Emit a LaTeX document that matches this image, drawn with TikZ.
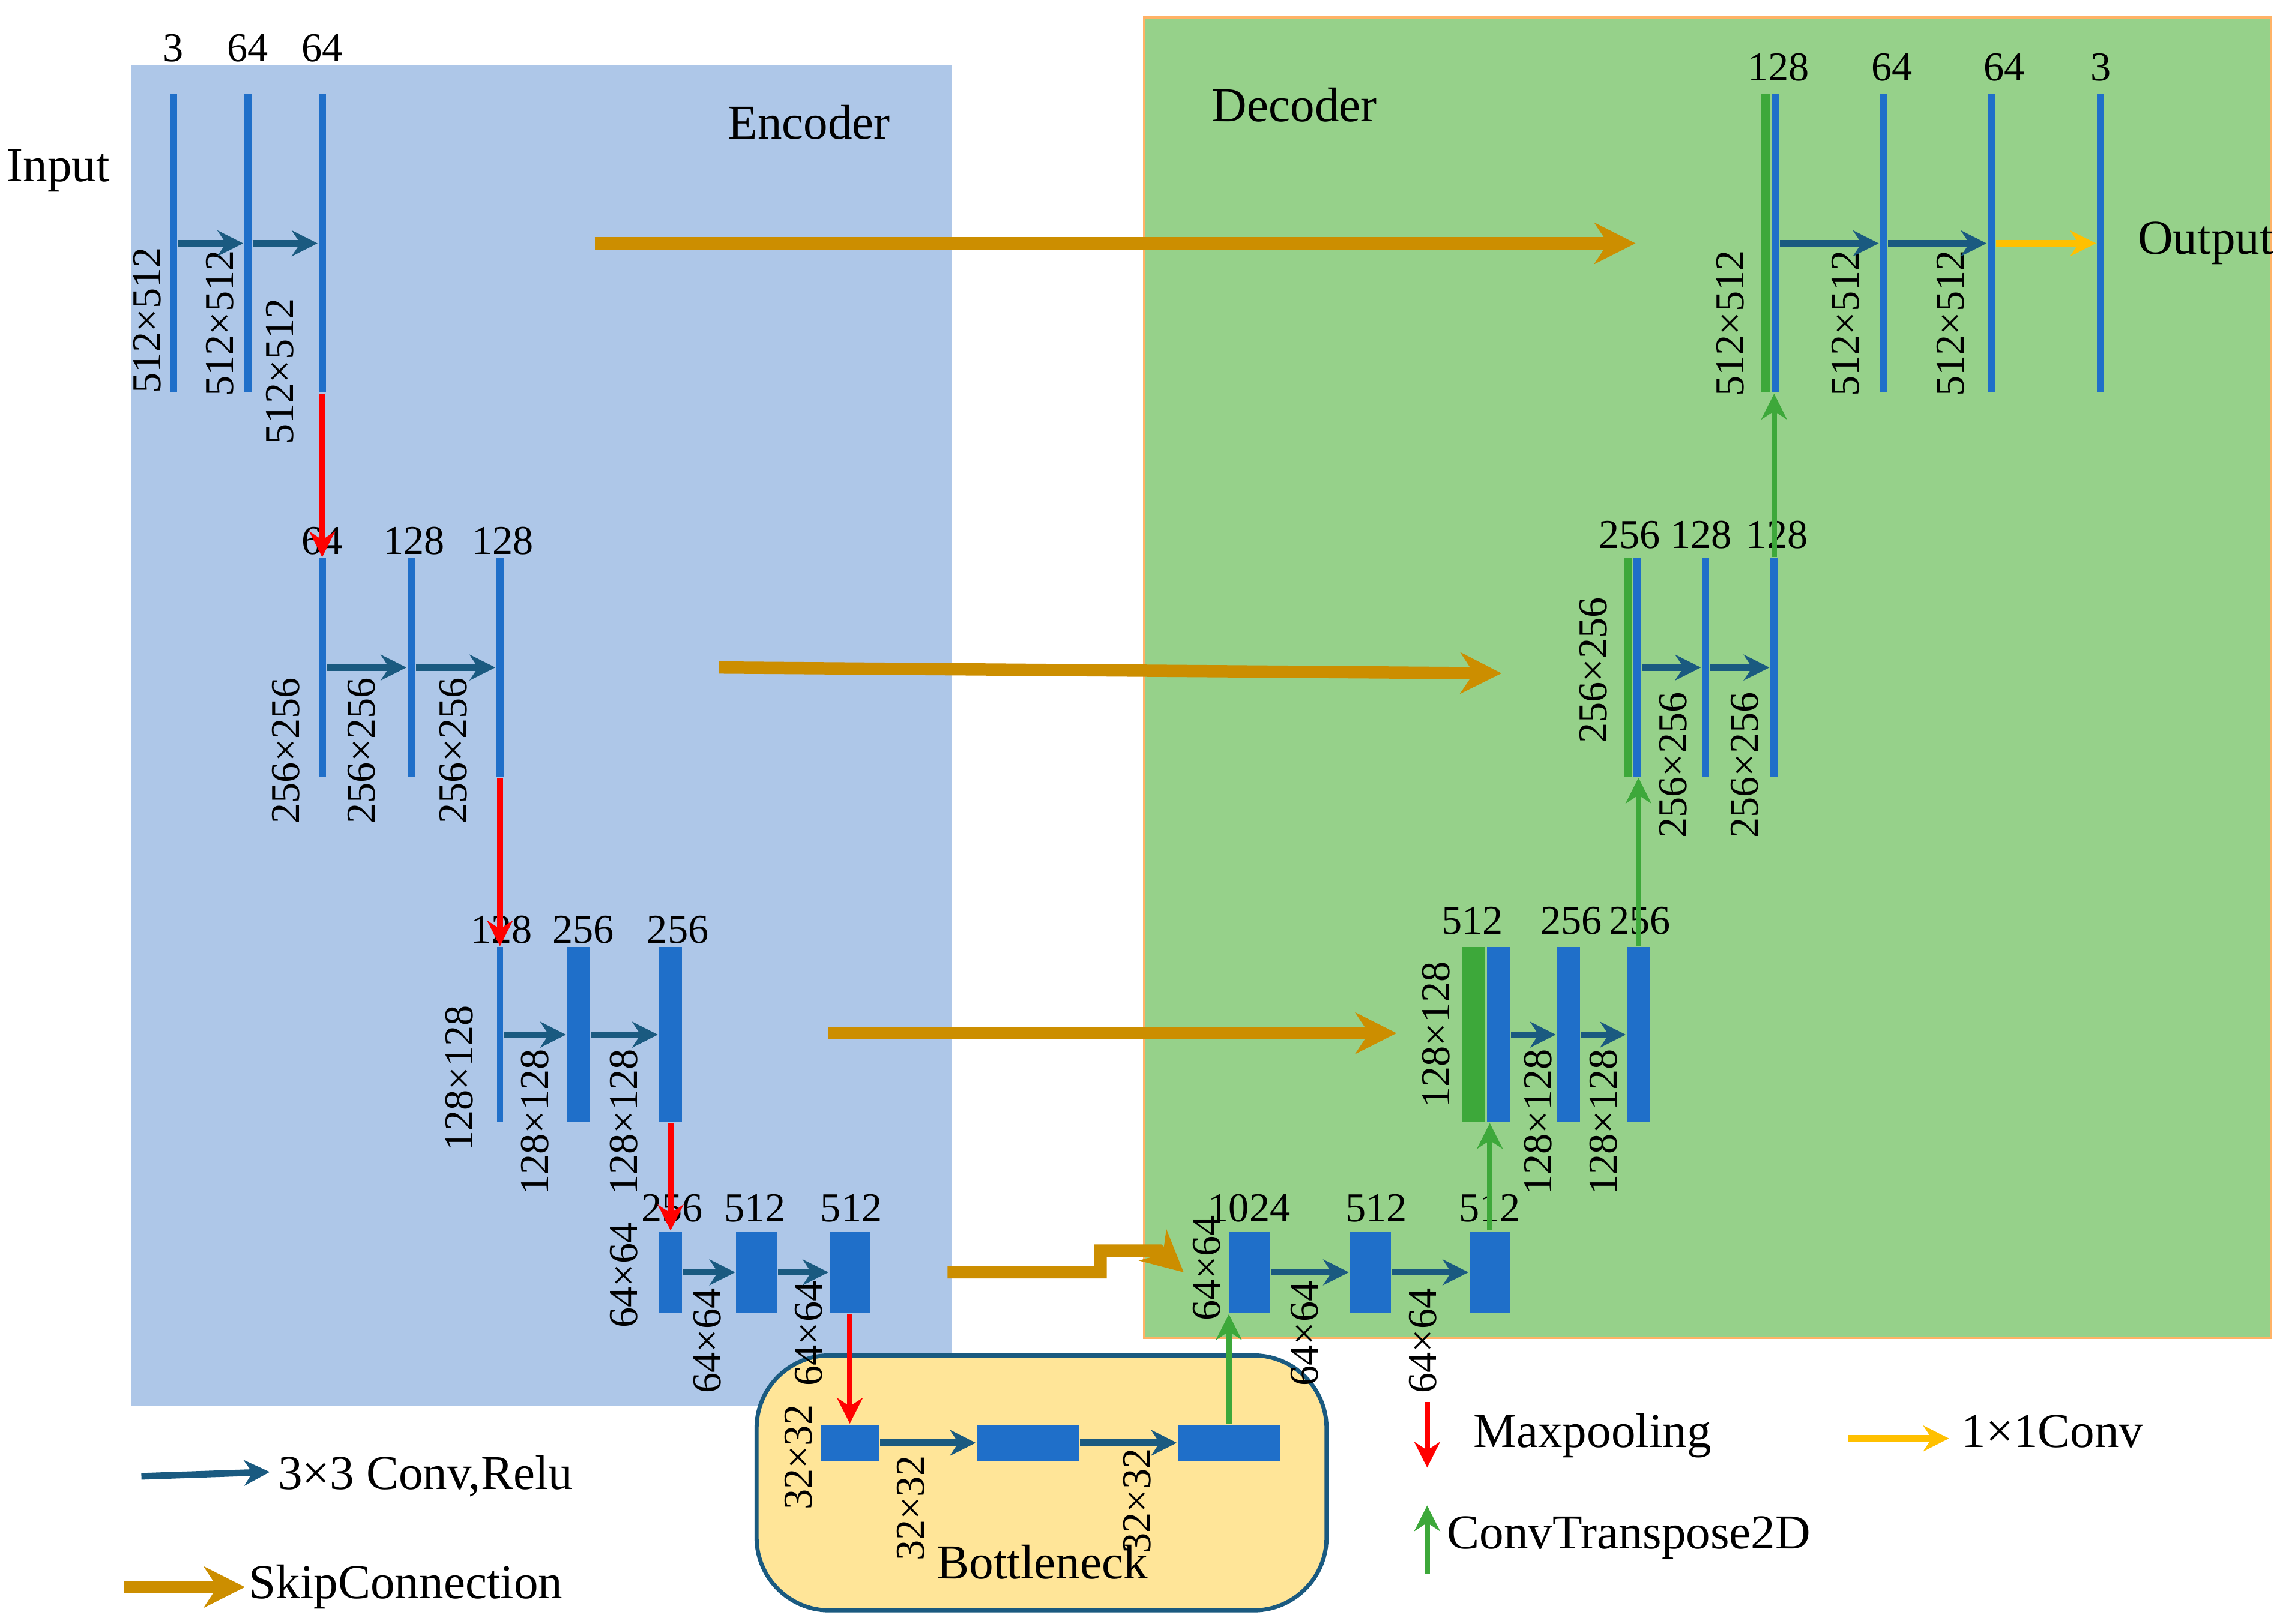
\documentclass[tikz,border=0pt]{standalone}
\usepackage{fontspec}
\setmainfont{Liberation Serif}
\usetikzlibrary{arrows.meta}
\definecolor{bgblue}{HTML}{AEC7E8}
\definecolor{bggreen}{HTML}{96D18A}
\definecolor{barblue}{HTML}{1F6FC9}
\definecolor{bargreen}{HTML}{3DA83A}
\definecolor{conv}{HTML}{1A5A80}
\definecolor{skip}{HTML}{CC8E00}
\definecolor{yel}{HTML}{FFC000}
\definecolor{bneck}{HTML}{FFE598}
\newcommand\pxx[1]{#1*0.01cm}
\tikzset{
 bb/.style 2 args={fill=barblue,draw=none,inner sep=0,minimum width=\pxx{#1},minimum height=\pxx{#2}},
 gb/.style 2 args={fill=bargreen,draw=none,inner sep=0,minimum width=\pxx{#1},minimum height=\pxx{#2}},
 txt/.style={font=\fontsize{8}{9}\selectfont,inner sep=0},
 big/.style={font=\fontsize{9.5}{11}\selectfont,inner sep=0},
 rl/.style={txt,rotate=90},
 cv/.style={conv,line width=1.3pt,-{Stealth[length=5pt,width=5pt]}},
 mp/.style={red,line width=1.1pt,-{Stealth[length=5pt,width=5pt]}},
 up/.style={bargreen,line width=1.1pt,-{Stealth[length=5pt,width=5pt]}},
 sk/.style={skip,line width=2.4pt,-{Stealth[length=8pt,width=8pt]}},
 yc/.style={yel,line width=1.3pt,-{Stealth[length=5pt,width=5pt]}},
}
\begin{document}
\begin{tikzpicture}[x=0.01cm,y=-0.01cm]
\useasboundingbox (0,0) rectangle (1562,1114);
\fill[bgblue] (90,45) rectangle (653,965);
\fill[bggreen,draw=orange!60,line width=0.5pt] (785,12) rectangle (1558,918);
\filldraw[fill=bneck,draw=conv,line width=0.8pt,rounded corners=0.5cm] (519,930) rectangle (910,1105);
\node[big] at (555,84) {Encoder};
\node[big] at (888,72) {Decoder};
\node[big] at (40,117) {Input};
\node[big] at (1513,167) {Output};
\node[big] at (715,1072) {Bottleneck};
% encoder level 1
\node[bb={5}{205}] (a1) at (119,167) {};
\node[bb={5}{205}] (a2) at (170,167) {};
\node[bb={5}{205}] (a3) at (221,167) {};
\node[txt] at (119,33) {3};\node[txt] at (170,33) {64};\node[txt] at (221,33) {64};
\node[rl] at (101,220) {512×512};\node[rl] at (151,222) {512×512};\node[rl] at (192,255) {512×512};
\draw[cv] (a1) -- (a2);\draw[cv] (a2) -- (a3);
% level 2
\node[bb={5}{150}] (b1) at (221,458) {};
\node[bb={5}{150}] (b2) at (282,458) {};
\node[bb={5}{150}] (b3) at (343,458) {};
\node[txt] at (221,371) {64};\node[txt] at (284,371) {128};\node[txt] at (345,371) {128};
\node[rl] at (196,515) {256×256};\node[rl] at (248,515) {256×256};\node[rl] at (311,515) {256×256};
\draw[cv] (b1) -- (b2);\draw[cv] (b2) -- (b3);
\draw[mp] (a3.south) -- (b1.north);
% level 3
\node[bb={4}{120}] (c1) at (343,710) {};
\node[bb={16}{120}] (c2) at (397,710) {};
\node[bb={16}{120}] (c3) at (460,710) {};
\node[txt] at (344,638) {128};\node[txt] at (400,638) {256};\node[txt] at (465,638) {256};
\node[rl] at (315,740) {128×128};\node[rl] at (367,770) {128×128};\node[rl] at (428,770) {128×128};
\draw[cv] (c1) -- (c2);\draw[cv] (c2) -- (c3);
\draw[mp] (b3.south) -- (c1.north);
% level 4
\node[bb={16}{56}] (d1) at (460,873) {};
\node[bb={28}{56}] (d2) at (519,873) {};
\node[bb={28}{56}] (d3) at (583,873) {};
\node[txt] at (461,829) {256};\node[txt] at (518,829) {512};\node[txt] at (584,829) {512};
\node[rl] at (428,875) {64×64};\node[rl] at (485,920) {64×64};\node[rl] at (555,915) {64×64};
\draw[cv] (d1) -- (d2);\draw[cv] (d2) -- (d3);
\draw[mp] (c3.south) -- (d1.north);
% bottleneck
\node[bb={40}{25}] (e1) at (583,990) {};
\node[bb={70}{25}] (e2) at (705,990) {};
\node[bb={70}{25}] (e3) at (843,990) {};
\node[rl] at (548,1000) {32×32};\node[rl] at (625,1035) {32×32};\node[rl] at (780,1030) {32×32};
\draw[cv] (e1) -- (e2);\draw[cv] (e2) -- (e3);
\draw[mp] (d3.south) -- (e1.north);
% decoder level 4
\node[bb={28}{56}] (f1) at (857,873) {};
\node[bb={28}{56}] (f2) at (940,873) {};
\node[bb={28}{56}] (f3) at (1022,873) {};
\node[txt] at (857,829) {1024};\node[txt] at (944,829) {512};\node[txt] at (1022,829) {512};
\node[rl] at (828,870) {64×64};\node[rl] at (895,915) {64×64};\node[rl] at (976,920) {64×64};
\draw[cv] (f1) -- (f2);\draw[cv] (f2) -- (f3);
\draw[up] (e3.north) -- (e3.north |- f1.south);
% decoder level 3
\node[gb={16}{120}] (g0) at (1011,710) {};
\node[bb={16}{120}] (g1) at (1028,710) {};
\node[bb={16}{120}] (g2) at (1076,710) {};
\node[bb={16}{120}] (g3) at (1124,710) {};
\node[txt] at (1010,632) {512};\node[txt] at (1078,632) {256};\node[txt] at (1125,632) {256};
\node[rl] at (985,710) {128×128};\node[rl] at (1055,770) {128×128};\node[rl] at (1100,770) {128×128};
\draw[cv] (g1) -- (g2);\draw[cv] (g2) -- (g3);
\draw[up] (f3.north) -- (f3.north |- g1.south);
% decoder level 2
\node[gb={5}{150}] (h0) at (1117,458) {};
\node[bb={5}{150}] (h1) at (1123,458) {};
\node[bb={5}{150}] (h2) at (1170,458) {};
\node[bb={5}{150}] (h3) at (1217,458) {};
\node[txt] at (1118,367) {256};\node[txt] at (1167,367) {128};\node[txt] at (1219,367) {128};
\node[rl] at (1093,460) {256×256};\node[rl] at (1148,525) {256×256};\node[rl] at (1197,525) {256×256};
\draw[cv] (h1) -- (h2);\draw[cv] (h2) -- (h3);
\draw[up] (g3.north) -- (h1.south -| g3.north);
% decoder level 1
\node[gb={6}{205}] (k0) at (1211,167) {};
\node[bb={5}{205}] (k1) at (1218,167) {};
\node[bb={5}{205}] (k2) at (1292,167) {};
\node[bb={5}{205}] (k3) at (1366,167) {};
\node[bb={5}{205}] (k4) at (1441,167) {};
\node[txt] at (1220,46) {128};\node[txt] at (1298,46) {64};\node[txt] at (1375,46) {64};\node[txt] at (1441,46) {3};
\node[rl] at (1187,222) {512×512};\node[rl] at (1266,222) {512×512};\node[rl] at (1338,222) {512×512};
\draw[cv] (k1) -- (k2);\draw[cv] (k2) -- (k3);\draw[yc] (k3) -- (k4);
\draw[up] (h3.north) -- (k1.south -| h3.north);
% skip connections
\coordinate (s1) at (408,167);\coordinate (t1) at (1122,167);
\coordinate (s2) at (493,458);\coordinate (t2) at (1030,462);
\coordinate (s3) at (568,709);\coordinate (t3) at (958,709);
\coordinate (s4) at (650,873);\coordinate (t4) at (812,873);
\draw[sk] (s1) -- (t1);
\draw[sk] (s2) -- (t2);
\draw[sk] (s3) -- (t3);
\draw[sk] (s4) -- (755,873) -- (755,858) -- (795,858) -- (t4);
% legend
\coordinate (l1a) at (97,1013);\coordinate (l1b) at (185,1010);
\draw[cv] (l1a) -- (l1b);\node[big,anchor=west] at (190,1013) {3×3 Conv,Relu};
\coordinate (l2a) at (85,1089);\coordinate (l2b) at (168,1089);
\draw[skip,line width=2.4pt,-{Stealth[length=8pt,width=8pt]}] (l2a) -- (l2b);\node[big,anchor=west] at (170,1089) {SkipConnection};
\coordinate (l3a) at (979,962);\coordinate (l3b) at (979,1007);
\draw[mp] (l3a) -- (l3b);\node[big,anchor=west] at (1010,985) {Maxpooling};
\coordinate (l4a) at (979,1080);\coordinate (l4b) at (979,1033);
\draw[up] (l4a) -- (l4b);\node[big,anchor=west] at (992,1055) {ConvTranspose2D};
\coordinate (l5a) at (1268,987);\coordinate (l5b) at (1337,987);
\draw[yc] (l5a) -- (l5b);\node[big,anchor=west] at (1345,982) {1×1Conv};
\end{tikzpicture}
\end{document}
